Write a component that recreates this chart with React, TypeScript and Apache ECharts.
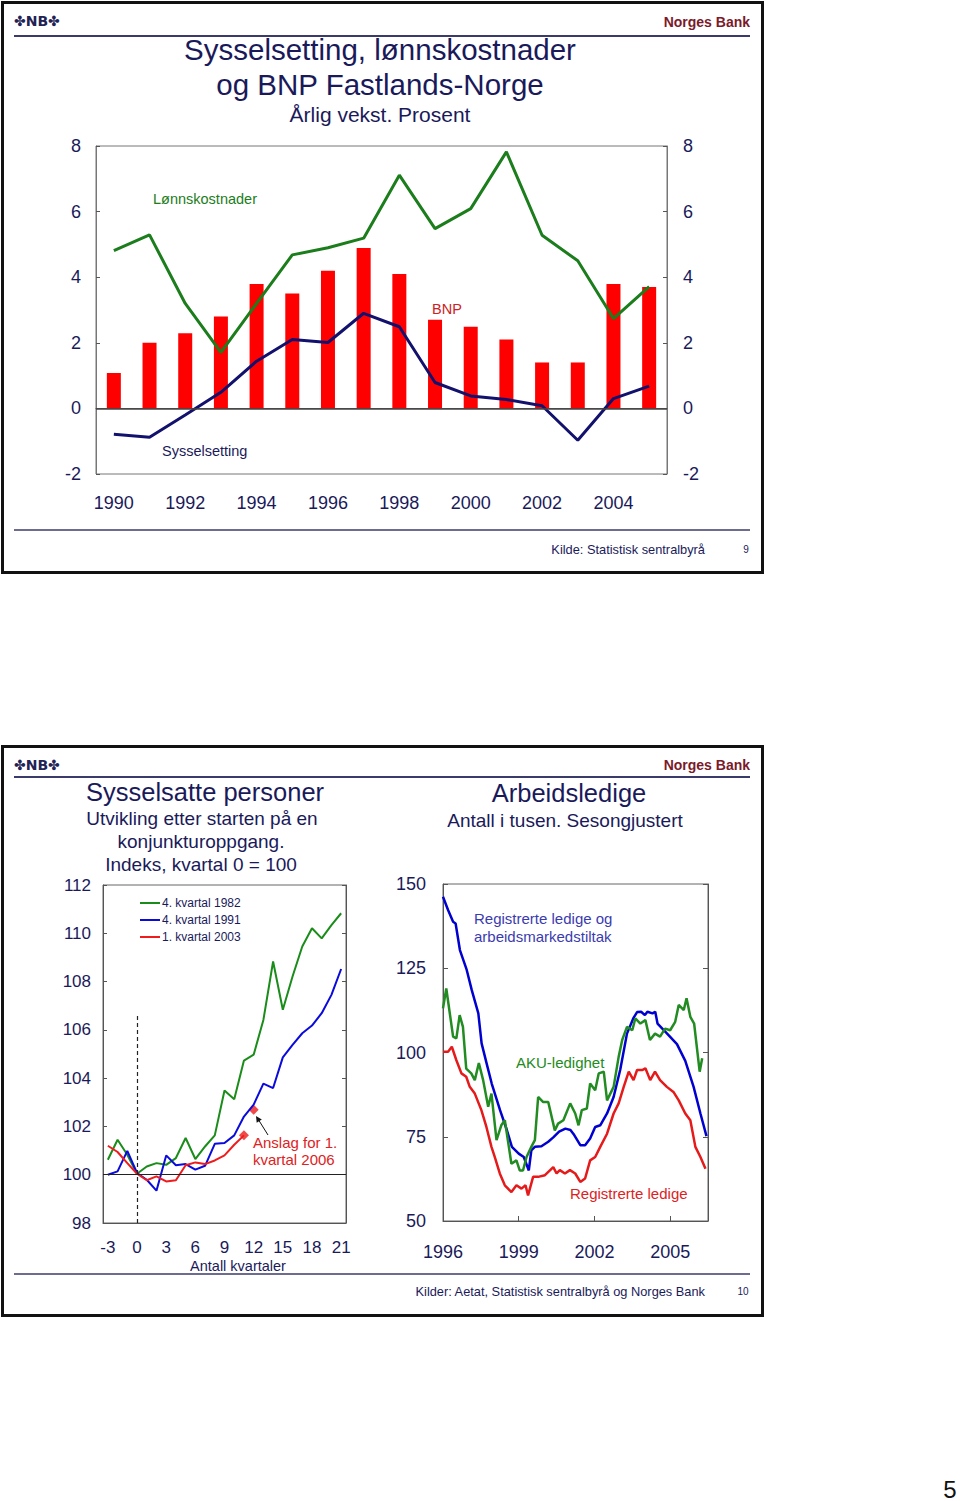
import React, { useEffect, useRef } from 'react';
import * as echarts from 'echarts';

const FONT = 'Liberation Sans';
const NAVY = '#1a1a5a';

// ---------- Top chart: Sysselsetting, lønnskostnader og BNP ----------
const years = ['1990', '1991', '1992', '1993', '1994', '1995', '1996', '1997', '1998', '1999', '2000', '2001', '2002', '2003', '2004', '2005'];
const bnp = [1.08, 2.0, 2.29, 2.8, 3.79, 3.5, 4.2, 4.89, 4.1, 2.7, 2.49, 2.1, 1.4, 1.4, 3.79, 3.7];
const lonnskostnader = [4.81, 5.29, 3.2, 1.71, 3.2, 4.68, 4.9, 5.19, 7.11, 5.48, 6.09, 7.82, 5.28, 4.5, 2.74, 3.71];
const sysselsetting = [-0.79, -0.88, -0.2, 0.49, 1.44, 2.1, 2.01, 2.9, 2.49, 0.79, 0.38, 0.27, 0.08, -0.97, 0.3, 0.68];

// ---------- Bottom left: Sysselsatte personer ----------
const quarters = ['-3', '-2', '-1', '0', '1', '2', '3', '4', '5', '6', '7', '8', '9', '10', '11', '12', '13', '14', '15', '16', '17', '18', '19', '20', '21'];
const q1982 = [100.62, 101.45, 100.83, 100.04, 100.34, 100.48, 100.41, 100.69, 101.52, 100.65, 101.17, 101.63, 103.49, 103.13, 104.73, 104.97, 106.41, 108.83, 106.83, 108.21, 109.45, 110.21, 109.79, 110.34, 110.83];
const q1991 = [100.0, 100.14, 100.99, 100.07, 99.79, 99.34, 100.8, 100.39, 100.44, 100.21, 100.37, 101.28, 101.31, 101.63, 102.41, 102.9, 103.77, 103.59, 104.86, 105.38, 105.86, 106.18, 106.69, 107.45, 108.52];
const q2003 = [101.2, 100.94, 100.48, 100.04, 99.77, 99.93, 99.72, 99.77, 100.39, 100.51, 100.44, 100.59, 100.8, 101.24, 101.63];
const anslagQuarter = '12';
const anslagValue = 102.69;
const cycleStartMarkTop = 106.7;

// ---------- Bottom right: Arbeidsledige ----------
const tiltakYears = [1996.0, 1996.2, 1996.4, 1996.5, 1996.67, 1996.94, 1997.14, 1997.4, 1997.53, 1997.73, 1997.93, 1998.26, 1998.53, 1998.73, 1999.0, 1999.2, 1999.4, 1999.5, 1999.64, 1999.9, 2000.17, 2000.37, 2000.6, 2000.85, 2001.05, 2001.2, 2001.44, 2001.63, 2001.83, 2002.03, 2002.23, 2002.5, 2002.76, 2003.02, 2003.29, 2003.55, 2003.69, 2003.85, 2004.0, 2004.1, 2004.3, 2004.41, 2004.5, 2004.88, 2005.27, 2005.6, 2005.93, 2006.2, 2006.44];
const tiltakVals = [146.2, 142.3, 138.8, 138.3, 130.4, 124.5, 118.5, 111.6, 102.7, 96.7, 90.8, 82.9, 77.0, 72.0, 70.0, 69.0, 65.0, 71.0, 72.0, 72.2, 73.5, 74.8, 76.5, 77.4, 77.0, 75.5, 72.5, 72.5, 74.5, 77.9, 78.4, 81.9, 86.8, 94.8, 105.6, 110.3, 112.0, 112.1, 111.1, 112.1, 111.6, 112.1, 108.6, 105.6, 102.5, 97.5, 89.8, 81.9, 75.2];

const akuYears = [1996.0, 1996.13, 1996.4, 1996.53, 1996.66, 1996.79, 1996.92, 1997.12, 1997.26, 1997.42, 1997.59, 1997.79, 1997.92, 1998.12, 1998.31, 1998.45, 1998.71, 1998.91, 1999.04, 1999.17, 1999.31, 1999.5, 1999.64, 1999.77, 1999.97, 2000.17, 2000.43, 2000.56, 2000.77, 2001.04, 2001.24, 2001.37, 2001.5, 2001.7, 2001.83, 2002.03, 2002.17, 2002.37, 2002.5, 2002.76, 2002.96, 2003.1, 2003.29, 2003.5, 2003.62, 2003.82, 2004.02, 2004.2, 2004.4, 2004.6, 2004.8, 2005.0, 2005.2, 2005.34, 2005.54, 2005.65, 2005.8, 2005.95, 2006.17, 2006.27];
const akuVals = [113.1, 119.0, 104.7, 104.2, 111.1, 107.6, 95.2, 93.8, 91.8, 96.9, 91.8, 83.9, 87.8, 74.0, 78.4, 79.9, 67.0, 68.0, 65.0, 65.0, 69.0, 72.0, 74.0, 86.8, 85.3, 85.3, 76.9, 78.9, 79.9, 84.9, 81.9, 78.4, 82.9, 83.4, 90.8, 88.8, 93.8, 94.3, 85.8, 89.8, 98.7, 103.7, 107.6, 106.6, 110.1, 108.6, 109.6, 103.7, 105.6, 104.7, 107.1, 106.6, 109.1, 114.1, 112.6, 116.1, 110.6, 108.6, 94.3, 98.3];

const regYears = [1996.0, 1996.2, 1996.35, 1996.53, 1996.73, 1996.92, 1997.06, 1997.26, 1997.52, 1997.72, 1997.92, 1998.05, 1998.25, 1998.45, 1998.71, 1998.91, 1999.11, 1999.27, 1999.37, 1999.57, 1999.77, 2000.04, 2000.37, 2000.5, 2000.63, 2000.83, 2001.03, 2001.24, 2001.44, 2001.63, 2001.83, 2002.03, 2002.23, 2002.5, 2002.76, 2002.96, 2003.16, 2003.36, 2003.55, 2003.69, 2003.89, 2004.02, 2004.21, 2004.4, 2004.6, 2004.87, 2005.13, 2005.34, 2005.6, 2005.8, 2006.0, 2006.2, 2006.4];
const regVals = [100.2, 100.2, 101.7, 97.7, 93.8, 92.8, 89.8, 87.8, 82.9, 77.9, 72.0, 69.0, 64.1, 60.6, 58.6, 60.6, 59.6, 60.6, 57.6, 63.1, 63.1, 63.6, 66.0, 64.1, 65.1, 64.1, 65.1, 64.1, 61.6, 62.6, 68.0, 69.0, 72.0, 75.9, 81.9, 84.9, 89.8, 94.3, 91.8, 94.8, 94.8, 95.3, 91.8, 94.3, 91.8, 89.8, 88.3, 85.8, 81.9, 79.9, 72.0, 69.0, 65.5];

const pairs = (xs: number[], ys: number[]) => xs.map((x, i) => [x, ys[i]]);

function txt(text: string, x: number, y: number, size: number, fill: string, align = 'left', weight = 'normal', family = FONT) {
  return {
    type: 'text', x, y, silent: true,
    style: { text, fill, fontSize: size, fontFamily: family, fontWeight: weight, align, verticalAlign: 'middle' },
  };
}
function hline(x1: number, x2: number, y: number, color: string, w: number) {
  return { type: 'line', silent: true, shape: { x1, y1: y, x2, y2: y }, style: { stroke: color, lineWidth: w } };
}

const axisLabel = (size: number, margin: number) => ({ fontSize: size, color: NAVY, fontFamily: FONT, margin });
const AX = '#555';

function buildOption() {
  const graphic: any[] = [
    // panel frames
    { type: 'rect', silent: true, shape: { x: 2.5, y: 2.5, width: 760, height: 570 }, style: { fill: 'none', stroke: '#111', lineWidth: 3 } },
    { type: 'rect', silent: true, shape: { x: 2.5, y: 746.5, width: 760, height: 569 }, style: { fill: 'none', stroke: '#111', lineWidth: 3 } },
    // headers
    hline(14, 750, 36, '#3b3b6b', 2),
    hline(14, 750, 777, '#3b3b6b', 2),
    txt('✤NB✤', 14, 21, 14, '#222255', 'left', 'bold', 'DejaVu Sans'),
    txt('✤NB✤', 14, 765, 14, '#222255', 'left', 'bold', 'DejaVu Sans'),
    txt('Norges Bank', 750, 22, 14, '#7a1a2a', 'right', 'bold'),
    txt('Norges Bank', 750, 765, 14, '#7a1a2a', 'right', 'bold'),
    // top titles
    txt('Sysselsetting, lønnskostnader', 380, 49, 29.5, NAVY, 'center'),
    txt('og BNP Fastlands-Norge', 380, 84, 29.5, NAVY, 'center'),
    txt('Årlig vekst. Prosent', 380, 114, 21, NAVY, 'center'),
    // top series labels
    txt('Lønnskostnader', 153, 199, 14.5, '#1b7d1b'),
    txt('BNP', 432, 309, 14.5, '#cc2222'),
    txt('Sysselsetting', 162, 451, 14.5, NAVY),
    // top footer
    hline(14, 750, 530, '#3b3b6b', 1.5),
    txt('Kilde: Statistisk sentralbyrå', 705, 549, 12.8, NAVY, 'right'),
    txt('9', 746, 549, 10, NAVY, 'center'),
    // bottom titles
    txt('Sysselsatte personer', 205, 792, 25.5, NAVY, 'center'),
    txt('Utvikling etter starten på en', 202, 818, 19, NAVY, 'center'),
    txt('konjunkturoppgang.', 201, 841, 19, NAVY, 'center'),
    txt('Indeks, kvartal 0 = 100', 201, 864, 19, NAVY, 'center'),
    txt('Arbeidsledige', 569, 793, 25.5, NAVY, 'center'),
    txt('Antall i tusen. Sesongjustert', 565, 820, 19, NAVY, 'center'),
    // bottom-left annotations
    txt('Anslag for 1.', 253, 1142, 15, '#dd2222'),
    txt('kvartal 2006', 253, 1159, 15, '#dd2222'),
    { type: 'line', silent: true, shape: { x1: 268, y1: 1135, x2: 258, y2: 1119 }, style: { stroke: '#111', lineWidth: 1 } },
    { type: 'polygon', silent: true, shape: { points: [[256, 1116], [261.8, 1119.5], [256.7, 1122.7]] }, style: { fill: '#111' } },
    txt('Antall kvartaler', 238, 1266, 14.5, NAVY, 'center'),
    // bottom-right annotations
    txt('Registrerte ledige og', 474, 918, 15, '#3b3bb0'),
    txt('arbeidsmarkedstiltak', 474, 936, 15, '#3b3bb0'),
    txt('AKU-ledighet', 516, 1062, 15, '#228b22'),
    txt('Registrerte ledige', 570, 1193, 15, '#dd2222'),
    // bottom footer
    hline(14, 750, 1274, '#3b3b6b', 1.5),
    txt('Kilder: Aetat, Statistisk sentralbyrå og Norges Bank', 705, 1291, 12.8, NAVY, 'right'),
    txt('10', 743, 1291, 10, NAVY, 'center'),
    // page number
    txt('5', 950, 1489, 24, '#111', 'center'),
  ];

  return {
    animation: false,
    textStyle: { fontFamily: FONT },
    graphic,
    legend: {
      data: ['4. kvartal 1982', '4. kvartal 1991', '1. kvartal 2003'],
      orient: 'vertical', left: 140, top: 897, padding: 0,
      itemWidth: 20, itemHeight: 2, itemGap: 5, icon: 'rect',
      textStyle: { fontSize: 12, color: NAVY, fontFamily: FONT, padding: [0, 0, 0, -3] },
    },
    grid: [
      { left: 96, top: 146, width: 571, height: 328, show: true, borderColor: '#777', borderWidth: 1 },
      { left: 103, top: 885, width: 243, height: 338, show: true, borderColor: '#666', borderWidth: 1 },
      { left: 443, top: 884, width: 265, height: 337, show: true, borderColor: '#666', borderWidth: 1 },
    ],
    xAxis: [
      {
        type: 'category', gridIndex: 0, data: years, boundaryGap: true,
        axisLine: { lineStyle: { color: AX } },
        axisTick: { inside: true, interval: 1, length: 5, lineStyle: { color: AX } },
        axisLabel: { ...axisLabel(18, 20), interval: 1 },
        splitLine: { show: false },
      },
      {
        type: 'category', gridIndex: 1, data: quarters, boundaryGap: true,
        axisLine: { lineStyle: { color: AX } },
        axisTick: { inside: true, interval: 2, length: 5, lineStyle: { color: AX } },
        axisLabel: { ...axisLabel(17, 16), interval: 2 },
        splitLine: { show: false },
      },
      {
        type: 'value', gridIndex: 2, min: 1996, max: 2006.5, interval: 3,
        axisLine: { lineStyle: { color: AX } },
        axisTick: { inside: true, length: 5, lineStyle: { color: AX } },
        axisLabel: { ...axisLabel(18, 22), formatter: (v: number) => ((v - 1996) % 3 === 0 ? String(v) : '') },
        splitLine: { show: false },
      },
    ],
    yAxis: [
      {
        type: 'value', gridIndex: 0, min: -2, max: 8, interval: 2,
        axisLine: { show: true, lineStyle: { color: '#777' } },
        axisTick: { show: true, inside: true, length: 4, lineStyle: { color: AX } },
        axisLabel: axisLabel(18, 15), splitLine: { show: false },
      },
      {
        type: 'value', gridIndex: 0, min: -2, max: 8, interval: 2, position: 'right',
        axisLine: { show: true, lineStyle: { color: '#777' } },
        axisTick: { show: true, inside: true, length: 4, lineStyle: { color: AX } },
        axisLabel: axisLabel(18, 16), splitLine: { show: false },
      },
      {
        type: 'value', gridIndex: 1, min: 98, max: 112, interval: 2,
        axisLine: { show: true, lineStyle: { color: AX } },
        axisTick: { show: true, inside: true, length: 4, lineStyle: { color: AX } },
        axisLabel: axisLabel(17, 12), splitLine: { show: false },
      },
      {
        type: 'value', gridIndex: 1, min: 98, max: 112, interval: 2, position: 'right',
        axisLine: { show: true, lineStyle: { color: AX } },
        axisTick: { show: true, inside: true, length: 4, lineStyle: { color: AX } },
        axisLabel: { show: false }, splitLine: { show: false },
      },
      {
        type: 'value', gridIndex: 2, min: 50, max: 150, interval: 25,
        axisLine: { show: true, lineStyle: { color: AX } },
        axisTick: { show: true, inside: true, length: 5, lineStyle: { color: AX } },
        axisLabel: axisLabel(18, 17), splitLine: { show: false },
      },
      {
        type: 'value', gridIndex: 2, min: 50, max: 150, interval: 25, position: 'right',
        axisLine: { show: true, lineStyle: { color: AX } },
        axisTick: { show: true, inside: true, length: 5, lineStyle: { color: AX } },
        axisLabel: { show: false }, splitLine: { show: false },
      },
    ],
    series: [
      {
        name: 'BNP', type: 'bar', xAxisIndex: 0, yAxisIndex: 0, data: bnp, barWidth: 14,
        itemStyle: { color: '#ff0000' },
        markLine: {
          silent: true, symbol: 'none', label: { show: false },
          lineStyle: { color: '#444', width: 1.5, type: 'solid' },
          data: [{ yAxis: 0 }],
        },
      },
      {
        name: 'Lønnskostnader', type: 'line', xAxisIndex: 0, yAxisIndex: 0, data: lonnskostnader,
        symbol: 'none', lineStyle: { color: '#1b7d1b', width: 3 }, itemStyle: { color: '#1b7d1b' },
      },
      {
        name: 'Sysselsetting', type: 'line', xAxisIndex: 0, yAxisIndex: 0, data: sysselsetting,
        symbol: 'none', lineStyle: { color: '#12126e', width: 3 }, itemStyle: { color: '#12126e' },
      },
      {
        name: '4. kvartal 1982', type: 'line', xAxisIndex: 1, yAxisIndex: 2, data: q1982,
        symbol: 'none', lineStyle: { color: '#1a8c1a', width: 2 }, itemStyle: { color: '#1a8c1a' },
        markLine: {
          silent: true, symbol: 'none', label: { show: false },
          lineStyle: { color: '#222', width: 1, type: 'solid' },
          data: [{ yAxis: 100 }],
        },
      },
      {
        name: '4. kvartal 1991', type: 'line', xAxisIndex: 1, yAxisIndex: 2, data: q1991,
        symbol: 'none', lineStyle: { color: '#0a0adc', width: 2 }, itemStyle: { color: '#0a0adc' },
        markLine: {
          silent: true, symbol: 'none', label: { show: false },
          lineStyle: { color: '#222', width: 1.2, type: [4, 3] },
          data: [[{ coord: ['0', 98] }, { coord: ['0', cycleStartMarkTop] }]],
        },
      },
      {
        name: '1. kvartal 2003', type: 'line', xAxisIndex: 1, yAxisIndex: 2, data: q2003,
        symbol: 'none', lineStyle: { color: '#ee1c1c', width: 2 }, itemStyle: { color: '#ee1c1c' },
      },
      {
        name: 'Anslag', type: 'scatter', xAxisIndex: 1, yAxisIndex: 2,
        data: [[quarters[q2003.length - 1], q2003[q2003.length - 1]], [anslagQuarter, anslagValue]],
        symbol: 'diamond', symbolSize: 10, itemStyle: { color: '#ee1c1c' },
      },
      {
        name: 'Registrerte ledige og arbeidsmarkedstiltak', type: 'line', xAxisIndex: 2, yAxisIndex: 4,
        data: pairs(tiltakYears, tiltakVals), symbol: 'none',
        lineStyle: { color: '#0000d0', width: 2.5 }, itemStyle: { color: '#0000d0' },
      },
      {
        name: 'AKU-ledighet', type: 'line', xAxisIndex: 2, yAxisIndex: 4,
        data: pairs(akuYears, akuVals), symbol: 'none',
        lineStyle: { color: '#228b22', width: 2.5 }, itemStyle: { color: '#228b22' },
      },
      {
        name: 'Registrerte ledige', type: 'line', xAxisIndex: 2, yAxisIndex: 4,
        data: pairs(regYears, regVals), symbol: 'none',
        lineStyle: { color: '#e51a1a', width: 2.5 }, itemStyle: { color: '#e51a1a' },
      },
    ],
  };
}

export default function App() {
  const ref = useRef<HTMLDivElement>(null);
  useEffect(() => {
    const chart = echarts.init(ref.current!, null, { renderer: 'svg' });
    chart.setOption(buildOption() as any);
    return () => chart.dispose();
  }, []);
  return <div ref={ref} style={{ position: 'absolute', left: 0, top: 0, width: 960, height: 1501, background: '#fff' }} />;
}
